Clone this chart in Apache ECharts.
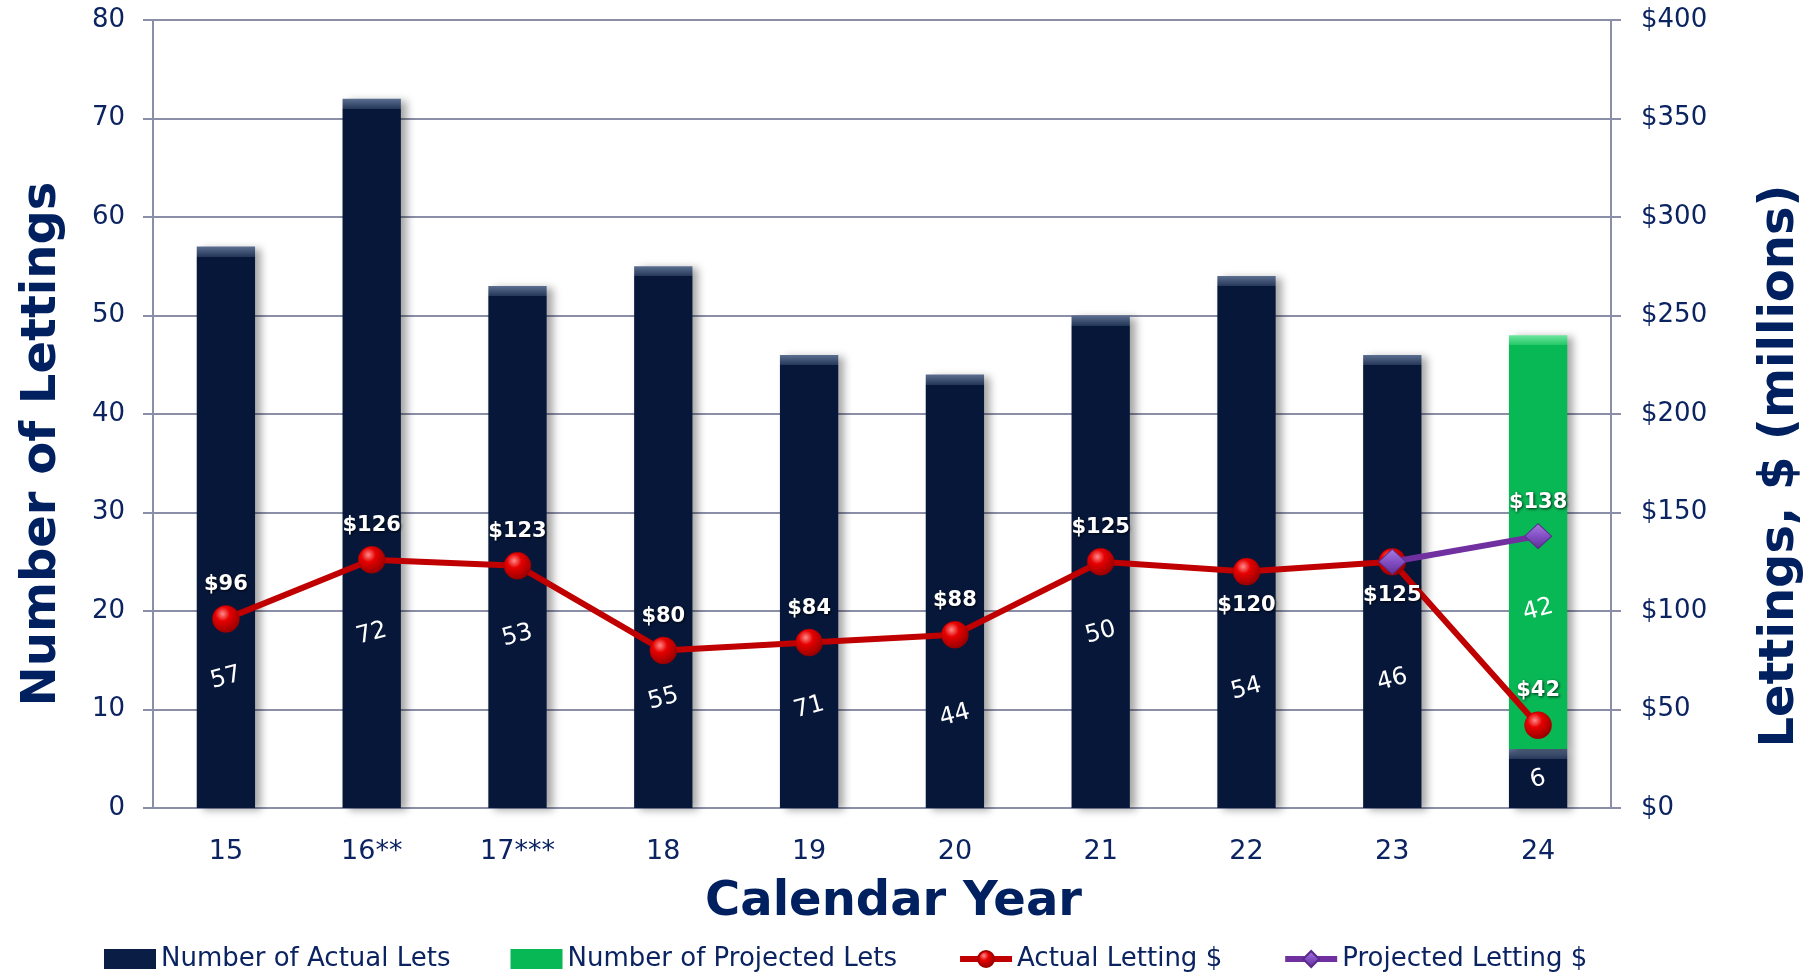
<!DOCTYPE html>
<html>
<head>
<meta charset="utf-8">
<title>Lettings by Calendar Year</title>
<script src="https://cdn.jsdelivr.net/npm/echarts@6/dist/echarts.min.js"></script>
<style>
  html, body { margin: 0; padding: 0; background: #fff; }
  #main { width: 1808px; height: 973px; }
</style>
</head>
<body>
<div id="main"></div>
<script>
// data
var years = ['15', '16**', '17***', '18', '19', '20', '21', '22', '23', '24'];
var actualLets = [57, 72, 53, 55, 46, 44, 50, 54, 46, 6];
var actualLetsText = ['57', '72', '53', '55', '71', '44', '50', '54', '46', '6']; // 19: bar is 46 tall, label says 71
var projectedLets = [null, null, null, null, null, null, null, null, null, 42];
var actualDollars = [96, 126, 123, 80, 84, 88, 125, 120, 125, 42];
var projectedDollars = [null, null, null, null, null, null, null, null, 125, 138];

// layout / style
var gridTop = 20, gridBottom = 165;
var pxPerLet = (973 - gridTop - gridBottom) / 80;
var barLabelAt = [13.2, 17.7, 17.5, 11.1, 10.2, 9.4, 17.8, 12.1, 13.0, 2.9]; // where the rotated count sits, in axis units
var projLabelAt = 20.1;
var dollarLabelSide = ['top', 'top', 'top', 'top', 'top', 'top', 'top', 'bottom', 'bottom', 'top'];

var font = 'DejaVu Sans';
var textColor = '#0b2461';
var titleColor = '#002060';
var gridColor = '#8a8ea6';

function bevel(base, light, mid, px, heightPx) {
  var o = Math.min(0.45, px / heightPx);
  return {
    type: 'linear', x: 0, y: 0, x2: 0, y2: 1,
    colorStops: [
      { offset: 0, color: light },
      { offset: o, color: mid },
      { offset: o + 0.0001, color: base },
      { offset: 1, color: base }
    ]
  };
}

var navyBars = actualLets.map(function (v, i) {
  var pct = (v - barLabelAt[i]) / v * 100;
  return {
    value: v,
    itemStyle: { color: bevel('#06173a', '#5d6f90', '#26385a', 10, v * pxPerLet) },
    label: { formatter: actualLetsText[i], position: ['50%', pct + '%'] }
  };
});

var greenBars = projectedLets.map(function (v, i) {
  if (v == null) return null;
  var top = v + actualLets[i];
  var pct = (top - projLabelAt) / v * 100;
  return {
    value: v,
    itemStyle: { color: bevel('#08b855', '#6fe6a0', '#22c766', 10, v * pxPerLet) },
    label: { formatter: String(v), position: ['50%', pct + '%'] }
  };
});

var redBall = {
  type: 'radial', x: 0.38, y: 0.32, r: 0.75,
  colorStops: [
    { offset: 0, color: '#ff8a8a' },
    { offset: 0.35, color: '#e60000' },
    { offset: 1, color: '#8c0000' }
  ]
};
var purpleGem = {
  type: 'linear', x: 0, y: 0, x2: 0, y2: 1,
  colorStops: [
    { offset: 0, color: '#a77ee0' },
    { offset: 0.5, color: '#8350c4' },
    { offset: 1, color: '#5e2e96' }
  ]
};

var actualDollarData = actualDollars.map(function (v, i) {
  return { value: v, label: { position: dollarLabelSide[i] } };
});
var projectedDollarData = projectedDollars.map(function (v, i) {
  if (v == null) return null;
  return { value: v, label: { show: i === projectedDollars.length - 1 } };
});

var dollarLabel = {
  show: true,
  formatter: '${c}',
  color: '#fff',
  fontFamily: font,
  fontWeight: 'bold',
  fontSize: 21,
  distance: 10,
  textShadowColor: 'rgba(0,0,0,0.8)',
  textShadowBlur: 3,
  textShadowOffsetX: 1,
  textShadowOffsetY: 1
};

var barLabel = {
  show: true,
  color: '#fff',
  fontFamily: font,
  fontSize: 24,
  rotate: 15,
  align: 'center',
  verticalAlign: 'middle'
};

var barShadow = {
  shadowColor: 'rgba(0,0,0,0.35)',
  shadowBlur: 8,
  shadowOffsetX: 6,
  shadowOffsetY: 2
};

var chart = echarts.init(document.getElementById('main'), null, { renderer: 'canvas' });

var option = {
  animation: false,
  backgroundColor: '#fff',
  textStyle: { fontFamily: font },
  grid: {
    left: 153, right: 197, top: gridTop, bottom: gridBottom,
    containLabel: false,
    outerBoundsMode: 'none'
  },
  legend: {
    left: 99,
    top: 941,
    itemWidth: 52,
    itemHeight: 20,
    itemGap: 60,
    textStyle: { color: textColor, fontSize: 26, fontFamily: font },
    data: [
      { name: 'Number of Actual Lets', icon: 'rect' },
      { name: 'Number of Projected Lets', icon: 'rect' },
      { name: 'Actual Letting $', lineStyle: { width: 6 } },
      { name: 'Projected Letting $', lineStyle: { width: 6 } }
    ]
  },
  xAxis: {
    type: 'category',
    data: years,
    axisLine: { lineStyle: { color: gridColor, width: 2 } },
    axisTick: { inside: true, length: 10, lineStyle: { color: gridColor, width: 2 } },
    axisLabel: { color: textColor, fontSize: 27, margin: 30, fontFamily: font },
    name: 'Calendar Year',
    nameLocation: 'middle',
    nameGap: 71,
    nameTextStyle: { color: titleColor, fontSize: 48, fontWeight: 'bold', fontFamily: font, padding: [0, 0, 0, 23] }
  },
  yAxis: [
    {
      type: 'value',
      min: 0, max: 80, interval: 10,
      position: 'left',
      axisLine: { show: true, lineStyle: { color: gridColor, width: 2 } },
      axisTick: { show: true, length: 10, lineStyle: { color: gridColor, width: 2 } },
      splitLine: { lineStyle: { color: gridColor, width: 2 } },
      axisLabel: { color: textColor, fontSize: 26, margin: 28, fontFamily: font },
      name: 'Number of Lettings',
      nameLocation: 'middle',
      nameRotate: 90,
      nameGap: 86,
      nameTextStyle: { color: titleColor, fontSize: 48, fontWeight: 'bold', fontFamily: font, padding: [0, 60, 0, 0] }
    },
    {
      type: 'value',
      min: 0, max: 400, interval: 50,
      position: 'right',
      axisLine: { show: true, lineStyle: { color: gridColor, width: 2 } },
      axisTick: { show: true, length: 10, lineStyle: { color: gridColor, width: 2 } },
      splitLine: { show: false },
      axisLabel: { color: textColor, fontSize: 26, margin: 30, fontFamily: font, formatter: '${value}' },
      name: 'Lettings, $ (millions)',
      nameLocation: 'middle',
      nameRotate: 90,
      nameGap: 146,
      nameTextStyle: { color: titleColor, fontSize: 48, fontWeight: 'bold', fontFamily: font, padding: [0, 104, 0, 0] }
    }
  ],
  series: [
    {
      name: 'Number of Actual Lets',
      type: 'bar',
      stack: 'lets',
      barWidth: '40%',
      itemStyle: Object.assign({ color: '#0a1e45' }, barShadow),
      label: barLabel,
      data: navyBars
    },
    {
      name: 'Number of Projected Lets',
      type: 'bar',
      stack: 'lets',
      barWidth: '40%',
      itemStyle: Object.assign({ color: '#08b855' }, barShadow),
      label: barLabel,
      data: greenBars
    },
    {
      name: 'Actual Letting $',
      type: 'line',
      yAxisIndex: 1,
      z: 5,
      symbol: 'circle',
      symbolSize: 27,
      lineStyle: { color: '#c00000', width: 6 },
      itemStyle: { color: redBall, borderColor: '#a00000', borderWidth: 0.5 },
      label: dollarLabel,
      data: actualDollarData
    },
    {
      name: 'Projected Letting $',
      type: 'line',
      yAxisIndex: 1,
      z: 6,
      symbol: 'diamond',
      symbolSize: [27, 25],
      lineStyle: { color: '#7030a0', width: 6 },
      itemStyle: { color: purpleGem, borderColor: '#5a2a8a', borderWidth: 1 },
      label: dollarLabel,
      data: projectedDollarData
    }
  ]
};

chart.setOption(option);
</script>
</body>
</html>
